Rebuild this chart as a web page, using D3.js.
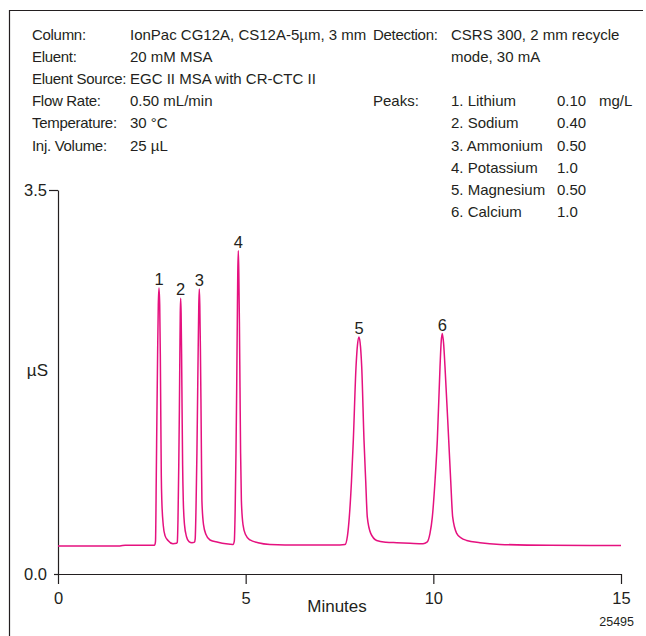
<!DOCTYPE html>
<html>
<head>
<meta charset="utf-8">
<script src="https://cdn.jsdelivr.net/npm/d3@7"></script>
<style>
  body { margin: 0; background: #fff; }
  text { fill: #231f20; }
</style>
</head>
<body>
<div id="chart"></div>
<script>
const condLabels = ['Column:', 'Eluent:', 'Eluent Source:', 'Flow Rate:', 'Temperature:', 'Inj. Volume:'];
const condValues = ['IonPac CG12A, CS12A-5µm, 3 mm', '20 mM MSA', 'EGC II MSA with CR-CTC II', '0.50 mL/min', '30 °C', '25 µL'];
const detectionLines = ['CSRS 300, 2 mm recycle', 'mode, 30 mA'];
const peakNames = ['1. Lithium', '2. Sodium', '3. Ammonium', '4. Potassium', '5. Magnesium', '6. Calcium'];
const peakConc = ['0.10', '0.40', '0.50', '1.0', '0.50', '1.0'];
const peakTimes = [2.691, 3.269, 3.765, 4.804, 8.020, 10.239];
const peakHeights = [2.606, 2.514, 2.597, 2.946, 2.161, 2.192];
const xTicks = [0, 5, 10, 15];
const yTicks = [0, 3.5];

// chromatogram trace: [minutes, µS]
const trace = [
  [0, 0.255], [1.65, 0.255], [1.79, 0.263], [2.57, 0.263],
  [2.584, 0.27], [2.598, 0.3], [2.619, 0.9], [2.635, 1.43], [2.654, 2.0], [2.672, 2.45], [2.691, 2.606],
  [2.710, 2.45], [2.726, 2.0], [2.739, 1.43], [2.752, 0.9], [2.766, 0.67], [2.806, 0.44], [2.851, 0.35],
  [2.931, 0.306], [3.064, 0.276], [3.157, 0.28],
  [3.178, 0.29], [3.197, 0.5], [3.218, 1.0], [3.234, 1.5], [3.247, 2.0], [3.258, 2.38], [3.269, 2.514],
  [3.280, 2.38], [3.293, 2.0], [3.306, 1.5], [3.320, 1.0], [3.338, 0.67], [3.370, 0.45], [3.424, 0.34],
  [3.490, 0.295], [3.570, 0.285], [3.637, 0.29],
  [3.655, 0.32], [3.677, 0.6], [3.701, 1.1], [3.719, 1.6], [3.735, 2.05], [3.751, 2.45], [3.765, 2.597],
  [3.778, 2.45], [3.794, 2.05], [3.808, 1.6], [3.821, 1.1], [3.834, 0.67], [3.877, 0.45], [3.943, 0.36],
  [4.050, 0.31], [4.263, 0.29], [4.476, 0.276], [4.663, 0.27],
  [4.697, 0.3], [4.721, 0.6], [4.742, 1.1], [4.761, 1.7], [4.777, 2.3], [4.790, 2.75], [4.804, 2.946],
  [4.817, 2.75], [4.833, 2.3], [4.849, 1.7], [4.865, 1.1], [4.886, 0.67], [4.929, 0.45], [4.996, 0.36],
  [5.116, 0.31], [5.329, 0.285], [5.648, 0.27], [6.448, 0.265], [7.513, 0.265],
  [7.646, 0.268], [7.713, 0.35], [7.761, 0.518], [7.820, 0.85], [7.868, 1.218], [7.940, 1.887], [7.980, 2.09],
  [8.020, 2.161], [8.060, 2.07], [8.092, 1.887], [8.153, 1.218], [8.198, 0.85], [8.241, 0.518], [8.332, 0.37],
  [8.491, 0.306], [8.739, 0.29], [9.024, 0.285], [9.378, 0.28], [9.725, 0.276],
  [9.831, 0.29], [9.911, 0.37], [9.973, 0.518], [10.045, 0.85], [10.106, 1.218], [10.178, 1.887], [10.210, 2.12],
  [10.239, 2.192], [10.274, 2.10], [10.311, 1.887], [10.410, 1.218], [10.463, 0.85], [10.516, 0.518],
  [10.623, 0.37], [10.737, 0.33], [10.889, 0.306], [11.243, 0.285], [11.776, 0.27], [13.109, 0.262], [15.0, 0.26]
];

const width = 646;
const height = 636;
const font = '"Liberation Sans", Arial, Helvetica, sans-serif';
const ink = '#231f20';

const svg = d3.select('#chart')
    .append('svg')
    .attr('width', width)
    .attr('height', height)
    .style('font-family', font);

// frame (top and left edges show in the picture)
svg.append('path')
    .attr('d', 'M9.5,636V10.5H643')
    .attr('fill', 'none')
    .attr('stroke', ink)
    .attr('stroke-width', 1.2);

// header block
const head = svg.append('g').attr('font-size', 15);
const top0 = 39.5;
const rowH = 22.2;

head.selectAll('.lab')
    .data(condLabels)
    .join('text')
    .attr('x', 32)
    .attr('y', (d, i) => top0 + i * rowH)
    .attr('letter-spacing', -0.3)
    .text(d => d);

head.selectAll('.val')
    .data(condValues)
    .join('text')
    .attr('x', 130)
    .attr('y', (d, i) => top0 + i * rowH)
    .text(d => d);

head.append('text').attr('x', 373).attr('y', top0).attr('letter-spacing', -0.3).text('Detection:');
head.selectAll('.det')
    .data(detectionLines)
    .join('text')
    .attr('x', 451)
    .attr('y', (d, i) => top0 + i * rowH)
    .text(d => d);

head.append('text').attr('x', 373).attr('y', top0 + 3 * rowH).text('Peaks:');
head.selectAll('.pk')
    .data(peakNames)
    .join('text')
    .attr('x', 451)
    .attr('y', (d, i) => top0 + (i + 3) * rowH)
    .text(d => d);
head.selectAll('.pc')
    .data(peakConc)
    .join('text')
    .attr('x', 557)
    .attr('y', (d, i) => top0 + (i + 3) * rowH)
    .text(d => d);
head.append('text').attr('x', 599).attr('y', top0 + 3 * rowH).text('mg/L');

// plot
const x = d3.scaleLinear().domain([0, 15]).range([58, 621]);
const y = d3.scaleLinear().domain([0, 3.5]).range([574, 190]);

const xAxis = svg.append('g')
    .attr('transform', `translate(0,${y(0)})`)
    .call(d3.axisBottom(x).tickValues(xTicks).tickSize(10).tickSizeOuter(0).tickPadding(8).tickFormat(d3.format('d')));

const yAxis = svg.append('g')
    .attr('transform', `translate(${x(0)},0)`)
    .call(d3.axisLeft(y).tickValues(yTicks).tickSize(9).tickSizeOuter(0).tickPadding(2).tickFormat(d3.format('.1f')));

yAxis.selectAll('.tick').filter(d => d === 0).select('line').attr('x2', -4);

[xAxis, yAxis].forEach(a => {
    a.attr('font-family', font).attr('font-size', 16.5);
    a.selectAll('path, line').attr('stroke', ink).attr('stroke-width', 1.2);
    a.selectAll('text').attr('fill', ink);
});

svg.append('text')
    .attr('x', 337)
    .attr('y', 612)
    .attr('text-anchor', 'middle')
    .attr('font-size', 17)
    .text('Minutes');

svg.append('text')
    .attr('x', 48)
    .attr('y', 376)
    .attr('text-anchor', 'end')
    .attr('font-size', 17)
    .text('µS');

svg.append('text')
    .attr('x', 634)
    .attr('y', 626)
    .attr('text-anchor', 'end')
    .attr('font-size', 12.5)
    .text('25495');

const line = d3.line()
    .x(d => x(d[0]))
    .y(d => y(d[1]))
    .curve(d3.curveMonotoneX);

svg.append('path')
    .datum(trace)
    .attr('d', line)
    .attr('fill', 'none')
    .attr('stroke', '#e5117f')
    .attr('stroke-width', 1.5);

svg.selectAll('.peakLabel')
    .data(peakTimes)
    .join('text')
    .attr('x', d => x(d))
    .attr('y', (d, i) => y(peakHeights[i]) - 3)
    .attr('text-anchor', 'middle')
    .attr('font-size', 16.5)
    .text((d, i) => i + 1);
</script>
</body>
</html>
